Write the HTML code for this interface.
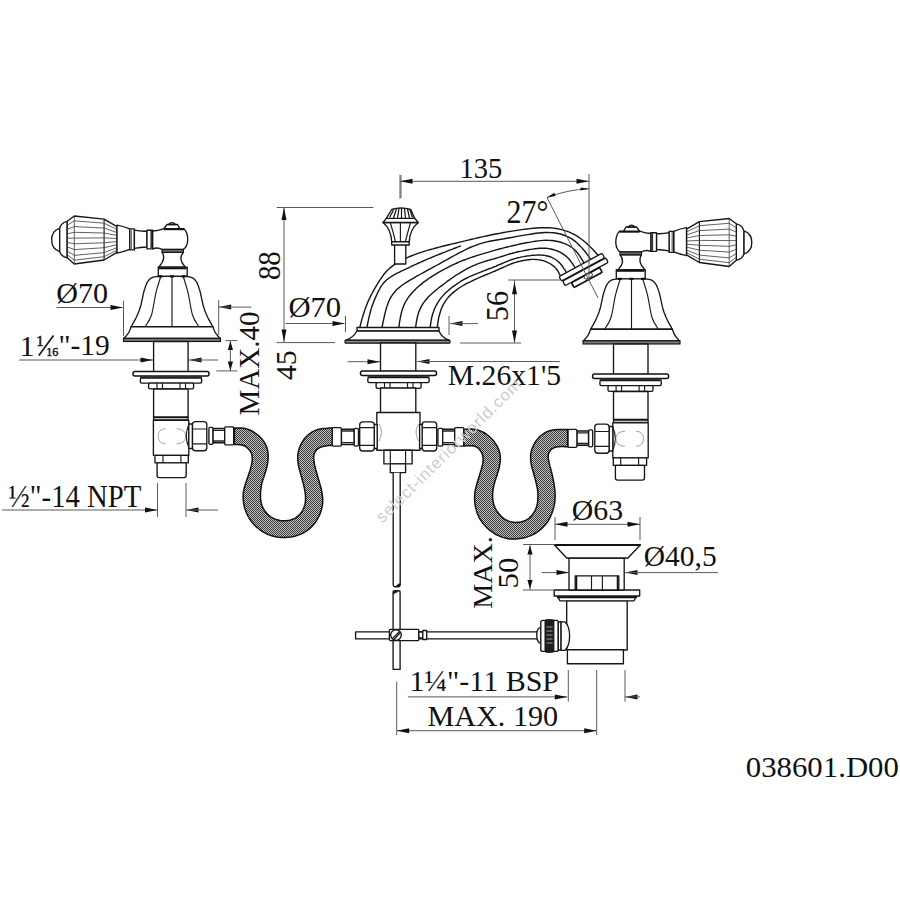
<!DOCTYPE html>
<html><head><meta charset="utf-8"><style>
html,body{margin:0;padding:0;background:#fff;}
svg{display:block;}
text{font-family:"Liberation Serif",serif;fill:#111;}
.ol{fill:#fff;stroke:#161616;stroke-width:1.35;stroke-linejoin:round;}
.th{fill:none;stroke:#1a1a1a;stroke-width:1.15;}
.fl{fill:none;stroke:#444;stroke-width:0.85;}
.bd{fill:none;stroke:#111;stroke-width:2.0;}
.dim{stroke:#5a5a5a;stroke-width:1.0;fill:none;}
.ah{fill:#111;stroke:none;}
.wm{fill:none;stroke:#999;stroke-width:0.9;}
.sp{fill:none;stroke:#151515;stroke-width:1.4;}
</style></head><body>
<svg width="900" height="900" viewBox="0 0 900 900">
<defs>
<pattern id="hatch" width="2" height="2" patternUnits="userSpaceOnUse">
<rect width="2" height="2" fill="#c4c4c4"/>
<rect width="1" height="1" fill="#383838"/>
<rect x="1" y="1" width="1" height="1" fill="#383838"/>
</pattern>
</defs>
<rect width="900" height="900" fill="#fff"/>

<g><path class="ol" d="M59.7,228.4 Q51.5,231 51.7,239.8 Q51.5,249 59.7,251.6 Z"/>
<path class="ol" d="M59.7,228.4 Q61,222.5 67.2,221.3 L67.2,257.8 Q61,256.5 59.7,251.6 Z"/>
<path class="ol" d="M67.2,221.3 L74.3,216 L104.1,219.1 L117,226.7 L117,252.4 L104.1,260 L74.3,264 L67.2,257.8 Z"/>
<path class="th" d="M104.1,219.1 L104.1,260"/>
<path class="fl" d="M74.3,216.5 L74.3,263.5"/>
<path class="fl" d="M67.5,225.0 L74.3,220.8 L104.1,223.2 L116.7,229.3"/>
<path class="fl" d="M67.5,229.3 L74.3,226.6 L104.1,228.1 L116.7,232.4"/>
<path class="fl" d="M67.5,233.7 L74.3,232.3 L104.1,233.0 L116.7,235.4"/>
<path class="fl" d="M67.5,238.1 L74.3,238.1 L104.1,237.9 L116.7,238.5"/>
<path class="fl" d="M67.5,242.5 L74.3,243.8 L104.1,242.8 L116.7,241.6"/>
<path class="fl" d="M67.5,246.9 L74.3,249.6 L104.1,247.7 L116.7,244.7"/>
<path class="fl" d="M67.5,251.2 L74.3,255.4 L104.1,252.6 L116.7,247.8"/>
<path class="fl" d="M67.5,254.9 L74.3,260.2 L104.1,256.7 L116.7,250.3"/>
<path class="ol" d="M117,225.1 Q123,226 129.8,228.8 L129.8,249.4 Q123,252 117,253.1 Z"/>
<rect class="ol" x="129.8" y="228.8" width="4.6" height="21.1"/>
<line x1="131.3" y1="229.5" x2="131.3" y2="249.2" stroke="#777" stroke-width="1.4"/>
<path class="ol" d="M134.4,230.2 Q140.7,231.6 147,231.2 L147,247 Q140.7,247.2 134.4,248.4 Z"/>
<rect class="ol" x="147" y="230.2" width="5.7" height="18.7"/>
<line x1="151.2" y1="230.8" x2="151.2" y2="248.3" stroke="#333" stroke-width="1.6"/>
<path class="ol" d="M152.7,231 Q158,230.8 163.9,228.6 L184,228.6 Q187.9,233 187.7,240 Q187.5,246.5 183.5,249.4 L162,249.4 Q157.5,246.8 152.7,248.9 Z"/>
<line x1="164" y1="229.3" x2="184" y2="229.3" stroke="#111" stroke-width="1.8"/>
<path class="ol" d="M163.9,228.6 L167,224.5 L177.5,224.5 L179.8,228.6 Z"/>
<path class="ol" d="M168.5,224.5 Q172,220.8 175.5,224.5 Z"/>
<path class="ol" d="M162,252.2 Q166.5,259 158.7,267.1 L185.4,267.1 Q177.5,259 183.5,252.2 Z"/>
<rect x="162" y="249.4" width="21.5" height="2.9" fill="#666" stroke="#111" stroke-width="1"/>
<rect class="ol" x="158.3" y="267.1" width="28.9" height="9.2"/>
<line class="bd" x1="159" y1="268.3" x2="186.5" y2="268.3"/>
<path class="ol" d="M131.1,326.7 L131.8,325.6 L132.5,324.2 L133.5,322.6 L134.4,320.9 L135.4,319.1 L136.3,317.3 L137.1,315.6 L137.8,314.0 L138.5,312.2 L139.2,310.5 L139.8,308.7 L140.4,306.7 L141.0,304.7 L141.5,302.4 L142.0,300.1 L142.5,297.9 L142.9,295.9 L143.3,294.1 L143.6,292.7 L143.9,291.6 L144.2,290.6 L144.4,289.7 L144.7,288.9 L145.0,288.0 L145.3,287.0 L145.7,285.9 L146.1,284.9 L146.5,283.9 L147.0,282.9 L147.5,282.0 L148.1,281.1 L148.7,280.3 L149.4,279.5 L150.2,278.8 L151.1,278.2 L152.1,277.6 L153.3,277.2 L154.7,276.9 L156.3,276.7 L157.7,276.5 L159.0,276.4 L160.0,276.3 L184.0,276.3 L185.0,276.4 L186.3,276.5 L187.7,276.7 L189.3,276.9 L190.7,277.2 L191.9,277.6 L192.9,278.2 L193.8,278.8 L194.6,279.5 L195.3,280.3 L195.9,281.1 L196.5,282.0 L197.0,282.9 L197.5,283.9 L197.9,284.9 L198.3,285.9 L198.7,287.0 L199.0,288.0 L199.3,288.9 L199.6,289.7 L199.8,290.6 L200.1,291.6 L200.4,292.7 L200.7,294.1 L201.1,295.9 L201.5,297.9 L202.0,300.1 L202.5,302.4 L203.0,304.7 L203.6,306.7 L204.2,308.7 L204.8,310.5 L205.5,312.2 L206.2,314.0 L206.9,315.6 L207.7,317.3 L208.6,319.1 L209.6,320.9 L210.5,322.6 L211.5,324.2 L212.2,325.6 L212.9,326.7 Z"/>
<path class="ol" d="M131.1,326.7 L212.9,326.7 Q214.5,333.5 220.2,338.4 L123.8,338.4 Q129.5,333.5 131.1,326.7 Z"/>
<rect x="123.5" y="338.3" width="97" height="3.2" fill="#777" stroke="#111" stroke-width="1.1"/>
<path class="th" d="M172,276.5 L172,326.7 M160.8,276.5 C160.0,279.0 157.8,285.3 156.2,291.7 C154.6,298.1 153.3,309.2 151.5,315.0 C149.7,320.8 146.2,324.8 145.1,326.7 M183.2,276.5 C184.0,279.0 186.2,285.3 187.8,291.7 C189.4,298.1 190.7,309.2 192.5,315.0 C194.3,320.8 197.8,324.8 198.9,326.7"/>
<path d="M158.5,276.3 L162.5,276.3 M170,276.3 L174,276.3 M181.5,276.3 L185.5,276.3" stroke="#111" stroke-width="2.2"/>
<rect class="ol" x="153.6" y="341.5" width="34.5" height="30.5"/>
<rect x="133" y="371.6" width="76" height="4.4" rx="2" fill="#fff" stroke="#111" stroke-width="1.5"/>
<rect x="140" y="376.0" width="62" height="2.2" fill="#333" stroke="none"/>
<rect class="ol" x="140.3" y="378.1" width="61.4" height="5" rx="1.5"/>
<rect class="ol" x="148.6" y="383.1" width="45" height="5.7" rx="1.5"/>
<path class="th" d="M157,383.1 L157,388.8 M162.5,383.1 L162.5,388.8 M180,383.1 L180,388.8 M185.5,383.1 L185.5,388.8"/>
<rect class="ol" x="153.6" y="389" width="34.5" height="31"/>
<line class="bd" x1="153.6" y1="417.3" x2="188.1" y2="417.3"/>
<rect class="ol" x="153.4" y="420.3" width="35.4" height="35.1"/>
<path class="wm" d="M165.5,428.7 Q158.2,429 158.2,436.2 Q158.2,443.5 165.5,443.8 M176.5,428.7 Q185.7,429 185.7,436.2 Q185.7,443.5 176.5,443.8"/>
<path class="th" d="M188.6,425 Q184,436 188.6,447"/>
<rect class="ol" x="155" y="455.4" width="33.3" height="7.4"/>
<path class="th" d="M163,455.4 L163,462.8 M180.9,455.4 L180.9,462.8"/>
<path class="ol" d="M157.1,462.8 L186.2,462.8 L186.2,475.6 Q186.2,477.6 184.2,477.6 L159.1,477.6 Q157.1,477.6 157.1,475.6 Z"/>
<rect class="ol" x="188.8" y="424" width="3.7" height="24.5"/>
<rect class="ol" x="192.5" y="421.6" width="14.3" height="29.1" rx="3"/>
<path class="th" d="M192.5,429 L206.8,429 M192.5,443.8 L206.8,443.8"/>
<rect class="ol" x="208.9" y="427.4" width="4.2" height="16.9" rx="1.5"/>
<rect class="ol" x="213.1" y="428.5" width="11.6" height="14.2"/>
<path d="M213.1,430.3 L224.7,430.3 M213.1,441 L224.7,441" stroke="#222" stroke-width="1.3"/>
<rect class="ol" x="224.7" y="426.9" width="9" height="17.9" rx="1"/></g>
<g transform="translate(803.5,2.5) scale(-1,1)"><path class="ol" d="M59.7,228.4 Q51.5,231 51.7,239.8 Q51.5,249 59.7,251.6 Z"/>
<path class="ol" d="M59.7,228.4 Q61,222.5 67.2,221.3 L67.2,257.8 Q61,256.5 59.7,251.6 Z"/>
<path class="ol" d="M67.2,221.3 L74.3,216 L104.1,219.1 L117,226.7 L117,252.4 L104.1,260 L74.3,264 L67.2,257.8 Z"/>
<path class="th" d="M104.1,219.1 L104.1,260"/>
<path class="fl" d="M74.3,216.5 L74.3,263.5"/>
<path class="fl" d="M67.5,225.0 L74.3,220.8 L104.1,223.2 L116.7,229.3"/>
<path class="fl" d="M67.5,229.3 L74.3,226.6 L104.1,228.1 L116.7,232.4"/>
<path class="fl" d="M67.5,233.7 L74.3,232.3 L104.1,233.0 L116.7,235.4"/>
<path class="fl" d="M67.5,238.1 L74.3,238.1 L104.1,237.9 L116.7,238.5"/>
<path class="fl" d="M67.5,242.5 L74.3,243.8 L104.1,242.8 L116.7,241.6"/>
<path class="fl" d="M67.5,246.9 L74.3,249.6 L104.1,247.7 L116.7,244.7"/>
<path class="fl" d="M67.5,251.2 L74.3,255.4 L104.1,252.6 L116.7,247.8"/>
<path class="fl" d="M67.5,254.9 L74.3,260.2 L104.1,256.7 L116.7,250.3"/>
<path class="ol" d="M117,225.1 Q123,226 129.8,228.8 L129.8,249.4 Q123,252 117,253.1 Z"/>
<rect class="ol" x="129.8" y="228.8" width="4.6" height="21.1"/>
<line x1="131.3" y1="229.5" x2="131.3" y2="249.2" stroke="#777" stroke-width="1.4"/>
<path class="ol" d="M134.4,230.2 Q140.7,231.6 147,231.2 L147,247 Q140.7,247.2 134.4,248.4 Z"/>
<rect class="ol" x="147" y="230.2" width="5.7" height="18.7"/>
<line x1="151.2" y1="230.8" x2="151.2" y2="248.3" stroke="#333" stroke-width="1.6"/>
<path class="ol" d="M152.7,231 Q158,230.8 163.9,228.6 L184,228.6 Q187.9,233 187.7,240 Q187.5,246.5 183.5,249.4 L162,249.4 Q157.5,246.8 152.7,248.9 Z"/>
<line x1="164" y1="229.3" x2="184" y2="229.3" stroke="#111" stroke-width="1.8"/>
<path class="ol" d="M163.9,228.6 L167,224.5 L177.5,224.5 L179.8,228.6 Z"/>
<path class="ol" d="M168.5,224.5 Q172,220.8 175.5,224.5 Z"/>
<path class="ol" d="M162,252.2 Q166.5,259 158.7,267.1 L185.4,267.1 Q177.5,259 183.5,252.2 Z"/>
<rect x="162" y="249.4" width="21.5" height="2.9" fill="#666" stroke="#111" stroke-width="1"/>
<rect class="ol" x="158.3" y="267.1" width="28.9" height="9.2"/>
<line class="bd" x1="159" y1="268.3" x2="186.5" y2="268.3"/>
<path class="ol" d="M131.1,326.7 L131.8,325.6 L132.5,324.2 L133.5,322.6 L134.4,320.9 L135.4,319.1 L136.3,317.3 L137.1,315.6 L137.8,314.0 L138.5,312.2 L139.2,310.5 L139.8,308.7 L140.4,306.7 L141.0,304.7 L141.5,302.4 L142.0,300.1 L142.5,297.9 L142.9,295.9 L143.3,294.1 L143.6,292.7 L143.9,291.6 L144.2,290.6 L144.4,289.7 L144.7,288.9 L145.0,288.0 L145.3,287.0 L145.7,285.9 L146.1,284.9 L146.5,283.9 L147.0,282.9 L147.5,282.0 L148.1,281.1 L148.7,280.3 L149.4,279.5 L150.2,278.8 L151.1,278.2 L152.1,277.6 L153.3,277.2 L154.7,276.9 L156.3,276.7 L157.7,276.5 L159.0,276.4 L160.0,276.3 L184.0,276.3 L185.0,276.4 L186.3,276.5 L187.7,276.7 L189.3,276.9 L190.7,277.2 L191.9,277.6 L192.9,278.2 L193.8,278.8 L194.6,279.5 L195.3,280.3 L195.9,281.1 L196.5,282.0 L197.0,282.9 L197.5,283.9 L197.9,284.9 L198.3,285.9 L198.7,287.0 L199.0,288.0 L199.3,288.9 L199.6,289.7 L199.8,290.6 L200.1,291.6 L200.4,292.7 L200.7,294.1 L201.1,295.9 L201.5,297.9 L202.0,300.1 L202.5,302.4 L203.0,304.7 L203.6,306.7 L204.2,308.7 L204.8,310.5 L205.5,312.2 L206.2,314.0 L206.9,315.6 L207.7,317.3 L208.6,319.1 L209.6,320.9 L210.5,322.6 L211.5,324.2 L212.2,325.6 L212.9,326.7 Z"/>
<path class="ol" d="M131.1,326.7 L212.9,326.7 Q214.5,333.5 220.2,338.4 L123.8,338.4 Q129.5,333.5 131.1,326.7 Z"/>
<rect x="123.5" y="338.3" width="97" height="3.2" fill="#777" stroke="#111" stroke-width="1.1"/>
<path class="th" d="M172,276.5 L172,326.7 M160.8,276.5 C160.0,279.0 157.8,285.3 156.2,291.7 C154.6,298.1 153.3,309.2 151.5,315.0 C149.7,320.8 146.2,324.8 145.1,326.7 M183.2,276.5 C184.0,279.0 186.2,285.3 187.8,291.7 C189.4,298.1 190.7,309.2 192.5,315.0 C194.3,320.8 197.8,324.8 198.9,326.7"/>
<path d="M158.5,276.3 L162.5,276.3 M170,276.3 L174,276.3 M181.5,276.3 L185.5,276.3" stroke="#111" stroke-width="2.2"/></g>
<g transform="translate(801.6,2.5) scale(-1,1)"><rect class="ol" x="153.6" y="341.5" width="34.5" height="30.5"/>
<rect x="133" y="371.6" width="76" height="4.4" rx="2" fill="#fff" stroke="#111" stroke-width="1.5"/>
<rect x="140" y="376.0" width="62" height="2.2" fill="#333" stroke="none"/>
<rect class="ol" x="140.3" y="378.1" width="61.4" height="5" rx="1.5"/>
<rect class="ol" x="148.6" y="383.1" width="45" height="5.7" rx="1.5"/>
<path class="th" d="M157,383.1 L157,388.8 M162.5,383.1 L162.5,388.8 M180,383.1 L180,388.8 M185.5,383.1 L185.5,388.8"/>
<rect class="ol" x="153.6" y="389" width="34.5" height="31"/>
<line class="bd" x1="153.6" y1="417.3" x2="188.1" y2="417.3"/>
<rect class="ol" x="153.4" y="420.3" width="35.4" height="35.1"/>
<path class="wm" d="M165.5,428.7 Q158.2,429 158.2,436.2 Q158.2,443.5 165.5,443.8 M176.5,428.7 Q185.7,429 185.7,436.2 Q185.7,443.5 176.5,443.8"/>
<path class="th" d="M188.6,425 Q184,436 188.6,447"/>
<rect class="ol" x="155" y="455.4" width="33.3" height="7.4"/>
<path class="th" d="M163,455.4 L163,462.8 M180.9,455.4 L180.9,462.8"/>
<path class="ol" d="M157.1,462.8 L186.2,462.8 L186.2,475.6 Q186.2,477.6 184.2,477.6 L159.1,477.6 Q157.1,477.6 157.1,475.6 Z"/>
<rect class="ol" x="188.8" y="424" width="3.7" height="24.5"/>
<rect class="ol" x="192.5" y="421.6" width="14.3" height="29.1" rx="3"/>
<path class="th" d="M192.5,429 L206.8,429 M192.5,443.8 L206.8,443.8"/>
<rect class="ol" x="208.9" y="427.4" width="4.2" height="16.9" rx="1.5"/>
<rect class="ol" x="213.1" y="428.5" width="11.6" height="14.2"/>
<path d="M213.1,430.3 L224.7,430.3 M213.1,441 L224.7,441" stroke="#222" stroke-width="1.3"/>
<rect class="ol" x="224.7" y="426.9" width="9" height="17.9" rx="1"/></g>
<path d="M234.4,428.0 L235.6,428.0 L237.0,428.0 L238.4,428.0 L240.0,428.0 L241.6,428.1 L243.3,428.3 L245.0,428.6 L246.6,429.0 L248.1,429.4 L249.7,430.0 L251.2,430.7 L252.7,431.5 L254.1,432.4 L255.5,433.3 L256.8,434.3 L258.1,435.3 L259.3,436.4 L260.5,437.6 L261.6,438.8 L262.6,440.0 L263.6,441.3 L264.5,442.6 L265.3,444.0 L266.0,445.3 L266.6,446.7 L267.0,448.1 L267.4,449.5 L267.7,451.0 L267.9,452.4 L268.1,453.9 L268.2,455.4 L268.2,457.0 L268.1,458.5 L268.0,460.1 L267.8,461.7 L267.6,463.3 L267.3,465.0 L266.9,466.6 L266.5,468.2 L266.1,469.9 L265.6,471.5 L265.1,473.1 L264.5,474.8 L264.0,476.4 L263.4,478.0 L262.9,479.7 L262.4,481.3 L261.9,482.9 L261.6,484.6 L261.3,486.2 L261.0,487.8 L260.8,489.5 L260.6,491.1 L260.5,492.7 L260.5,494.3 L260.5,495.8 L260.5,497.4 L260.6,498.9 L260.8,500.3 L261.0,501.8 L261.3,503.2 L261.7,504.6 L262.1,506.0 L262.7,507.4 L263.5,508.8 L264.3,510.2 L265.2,511.5 L266.3,512.8 L267.4,514.1 L268.7,515.2 L270.0,516.3 L271.4,517.3 L273.0,518.1 L274.6,518.9 L276.4,519.5 L278.2,520.0 L280.0,520.4 L281.9,520.7 L283.7,520.8 L285.5,520.8 L287.3,520.6 L289.1,520.3 L290.8,519.9 L292.5,519.3 L294.1,518.6 L295.6,517.8 L297.0,516.9 L298.3,515.9 L299.5,514.7 L300.6,513.5 L301.6,512.1 L302.5,510.7 L303.2,509.2 L303.9,507.6 L304.4,506.1 L304.9,504.5 L305.2,502.9 L305.4,501.3 L305.5,499.7 L305.6,498.1 L305.5,496.5 L305.4,494.8 L305.2,493.2 L305.0,491.4 L304.7,489.7 L304.3,487.9 L303.9,486.2 L303.5,484.4 L303.0,482.6 L302.5,480.7 L302.0,478.9 L301.5,477.1 L301.0,475.3 L300.5,473.5 L300.0,471.6 L299.5,469.8 L299.1,468.0 L298.7,466.3 L298.3,464.5 L298.1,462.8 L297.9,461.1 L297.7,459.4 L297.7,457.8 L297.7,456.1 L297.9,454.5 L298.1,452.9 L298.4,451.3 L298.9,449.6 L299.4,448.0 L300.1,446.3 L300.9,444.6 L301.7,442.9 L302.7,441.3 L303.7,439.8 L304.8,438.3 L306.0,436.9 L307.2,435.7 L308.5,434.5 L309.9,433.5 L311.3,432.5 L312.8,431.6 L314.3,430.9 L316.0,430.2 L317.7,429.6 L319.6,429.2 L321.5,428.8 L323.5,428.5 L325.5,428.4 L327.5,428.2 L329.3,428.1 L331.1,428.1 L332.6,428.0 L332.6,445.3 L331.4,445.4 L330.0,445.5 L328.6,445.6 L327.1,445.8 L325.6,446.0 L324.1,446.2 L322.6,446.6 L321.3,447.0 L320.1,447.4 L319.1,448.0 L318.1,448.6 L317.2,449.3 L316.5,450.1 L315.8,450.8 L315.2,451.7 L314.7,452.6 L314.3,453.5 L314.0,454.4 L313.8,455.4 L313.7,456.4 L313.6,457.6 L313.7,458.8 L313.8,460.0 L314.0,461.4 L314.2,463.0 L314.5,464.6 L314.9,466.3 L315.4,468.1 L315.8,469.9 L316.4,471.8 L316.9,473.7 L317.4,475.6 L318.0,477.6 L318.6,479.6 L319.2,481.5 L319.7,483.5 L320.3,485.5 L320.8,487.5 L321.3,489.5 L321.7,491.4 L322.0,493.3 L322.3,495.1 L322.5,496.9 L322.7,498.8 L322.7,500.6 L322.7,502.4 L322.5,504.2 L322.2,506.1 L321.8,508.1 L321.3,510.1 L320.7,512.1 L319.9,514.1 L319.0,516.1 L318.0,518.0 L317.0,519.9 L315.8,521.7 L314.5,523.5 L313.1,525.1 L311.6,526.7 L310.0,528.2 L308.3,529.6 L306.6,530.9 L304.7,532.1 L302.8,533.1 L300.9,534.1 L298.8,534.9 L296.7,535.6 L294.5,536.2 L292.3,536.7 L290.1,537.1 L287.8,537.3 L285.6,537.5 L283.4,537.5 L281.2,537.5 L279.0,537.3 L276.8,537.0 L274.6,536.6 L272.5,536.0 L270.4,535.4 L268.4,534.6 L266.4,533.7 L264.4,532.7 L262.5,531.6 L260.7,530.3 L258.9,529.0 L257.2,527.6 L255.6,526.1 L254.1,524.6 L252.7,522.9 L251.3,521.2 L250.1,519.5 L249.0,517.7 L247.9,515.9 L247.0,514.0 L246.2,512.2 L245.4,510.3 L244.8,508.5 L244.3,506.6 L243.9,504.8 L243.6,503.0 L243.4,501.2 L243.2,499.4 L243.1,497.7 L243.1,496.1 L243.2,494.5 L243.3,493.0 L243.5,491.5 L243.8,490.1 L244.1,488.7 L244.4,487.2 L244.9,485.7 L245.3,484.1 L245.9,482.4 L246.5,480.7 L247.1,478.9 L247.8,477.1 L248.4,475.3 L249.0,473.5 L249.6,471.7 L250.2,470.0 L250.6,468.4 L251.0,466.8 L251.4,465.2 L251.7,463.8 L251.9,462.3 L252.1,461.0 L252.2,459.7 L252.3,458.5 L252.2,457.4 L252.1,456.3 L252.0,455.3 L251.8,454.4 L251.5,453.6 L251.1,452.7 L250.7,451.9 L250.1,451.1 L249.6,450.3 L248.9,449.5 L248.2,448.7 L247.4,447.9 L246.5,447.2 L245.6,446.5 L244.7,446.0 L243.6,445.5 L242.5,445.2 L241.3,444.9 L240.0,444.8 L238.8,444.7 L237.6,444.6 L236.4,444.6 L235.3,444.6 L234.4,444.6 Z" fill="url(#hatch)" stroke="#111" stroke-width="1.5" stroke-linejoin="round"/>
<path d="M463.7,429.4 L464.9,429.3 L466.4,429.2 L468.0,429.1 L469.6,429.1 L471.3,429.1 L473.1,429.2 L474.9,429.4 L476.6,429.7 L478.2,430.1 L479.9,430.7 L481.4,431.4 L483.0,432.1 L484.5,433.0 L486.0,433.9 L487.4,435.0 L488.8,436.1 L490.1,437.2 L491.4,438.5 L492.6,439.8 L493.7,441.1 L494.7,442.5 L495.7,443.9 L496.6,445.3 L497.4,446.8 L498.1,448.2 L498.7,449.6 L499.2,451.0 L499.6,452.5 L499.9,453.9 L500.1,455.4 L500.3,456.9 L500.3,458.4 L500.3,459.9 L500.2,461.5 L500.0,463.1 L499.7,464.7 L499.4,466.4 L499.1,468.0 L498.7,469.6 L498.2,471.3 L497.7,472.9 L497.2,474.5 L496.7,476.2 L496.1,477.8 L495.6,479.4 L495.0,481.1 L494.6,482.7 L494.1,484.3 L493.7,486.0 L493.4,487.6 L493.1,489.2 L492.9,490.9 L492.7,492.5 L492.6,494.1 L492.6,495.7 L492.6,497.2 L492.7,498.8 L492.9,500.3 L493.2,501.8 L493.5,503.2 L493.9,504.7 L494.4,506.1 L494.9,507.5 L495.6,508.9 L496.4,510.3 L497.3,511.7 L498.3,513.0 L499.3,514.3 L500.5,515.6 L501.7,516.7 L502.9,517.8 L504.2,518.8 L505.5,519.6 L506.8,520.3 L508.2,520.9 L509.6,521.4 L511.1,521.8 L512.6,522.1 L514.1,522.3 L515.7,522.4 L517.3,522.3 L518.9,522.2 L520.6,521.9 L522.3,521.5 L523.9,521.0 L525.5,520.4 L527.0,519.6 L528.4,518.7 L529.7,517.6 L530.9,516.4 L532.1,515.1 L533.1,513.7 L534.1,512.2 L535.0,510.6 L535.7,509.0 L536.4,507.3 L536.9,505.6 L537.3,503.9 L537.6,502.1 L537.8,500.3 L537.9,498.5 L538.0,496.7 L538.0,494.9 L537.9,493.0 L537.7,491.2 L537.5,489.4 L537.2,487.6 L536.8,485.8 L536.4,484.0 L536.0,482.2 L535.5,480.3 L535.0,478.4 L534.5,476.5 L533.9,474.5 L533.4,472.5 L532.8,470.5 L532.2,468.5 L531.7,466.6 L531.3,464.7 L531.0,462.8 L530.8,461.1 L530.6,459.3 L530.6,457.7 L530.6,456.0 L530.7,454.4 L531.0,452.8 L531.3,451.3 L531.7,449.7 L532.3,448.1 L533.0,446.5 L533.8,444.9 L534.6,443.3 L535.6,441.7 L536.6,440.3 L537.7,438.9 L538.9,437.6 L540.1,436.4 L541.4,435.3 L542.7,434.2 L544.1,433.3 L545.6,432.4 L547.1,431.6 L548.9,431.0 L550.7,430.5 L552.8,430.1 L554.9,429.8 L557.2,429.6 L559.5,429.5 L561.7,429.4 L563.8,429.4 L565.9,429.4 L567.6,429.4 L567.6,446.8 L566.4,446.7 L565.1,446.7 L563.7,446.6 L562.2,446.6 L560.6,446.6 L559.1,446.7 L557.7,446.8 L556.4,447.0 L555.2,447.3 L554.2,447.7 L553.2,448.1 L552.4,448.6 L551.6,449.2 L550.9,449.8 L550.3,450.5 L549.8,451.2 L549.3,451.9 L548.9,452.7 L548.6,453.5 L548.4,454.4 L548.3,455.3 L548.2,456.3 L548.2,457.3 L548.3,458.4 L548.4,459.6 L548.7,460.9 L549.0,462.2 L549.3,463.6 L549.7,465.1 L550.1,466.7 L550.6,468.4 L551.0,470.1 L551.5,472.0 L552.0,474.0 L552.5,476.1 L552.9,478.3 L553.4,480.5 L553.8,482.7 L554.2,484.9 L554.5,487.1 L554.7,489.3 L554.9,491.5 L555.1,493.7 L555.1,495.8 L555.1,498.0 L554.9,500.2 L554.7,502.4 L554.3,504.6 L553.9,506.9 L553.2,509.2 L552.5,511.5 L551.7,513.8 L550.7,516.0 L549.6,518.2 L548.5,520.4 L547.1,522.4 L545.7,524.3 L544.1,526.1 L542.5,527.8 L540.7,529.4 L538.8,530.9 L536.9,532.3 L534.9,533.5 L532.9,534.6 L530.8,535.6 L528.7,536.4 L526.5,537.1 L524.3,537.7 L522.1,538.2 L519.9,538.6 L517.8,538.8 L515.8,539.0 L513.8,539.1 L511.9,539.0 L510.0,538.9 L508.2,538.7 L506.4,538.3 L504.7,537.9 L502.9,537.4 L501.2,536.8 L499.5,536.1 L497.8,535.4 L496.1,534.5 L494.5,533.6 L492.9,532.5 L491.3,531.4 L489.8,530.2 L488.3,528.9 L486.8,527.6 L485.4,526.1 L484.0,524.6 L482.7,523.0 L481.5,521.3 L480.3,519.6 L479.3,517.8 L478.4,516.0 L477.5,514.1 L476.8,512.1 L476.3,510.2 L475.8,508.1 L475.4,506.1 L475.0,504.2 L474.8,502.2 L474.7,500.4 L474.6,498.6 L474.6,496.9 L474.7,495.2 L474.8,493.6 L475.0,492.0 L475.3,490.4 L475.6,488.8 L476.0,487.1 L476.5,485.3 L476.9,483.6 L477.5,481.8 L478.0,479.9 L478.6,478.1 L479.2,476.3 L479.7,474.6 L480.2,472.9 L480.7,471.3 L481.2,469.7 L481.6,468.2 L482.0,466.7 L482.4,465.3 L482.7,463.9 L482.9,462.6 L483.0,461.3 L483.1,460.1 L483.1,458.9 L483.0,457.7 L482.9,456.6 L482.7,455.5 L482.4,454.5 L482.0,453.5 L481.5,452.5 L481.0,451.6 L480.4,450.6 L479.7,449.7 L478.9,448.8 L478.1,448.1 L477.1,447.4 L476.1,446.8 L474.9,446.3 L473.6,446.0 L472.2,445.8 L470.7,445.7 L469.1,445.7 L467.6,445.7 L466.2,445.8 L464.9,445.9 L463.7,446.0 Z" fill="url(#hatch)" stroke="#111" stroke-width="1.5" stroke-linejoin="round"/>
<path class="sp" d="M359.8,327.5 L360.6,324.3 L361.4,321.1 L362.3,317.9 L363.3,314.7 L364.3,311.6 L365.3,308.5 L366.5,305.4 L367.7,302.4 L369.1,299.4 L370.5,296.4 L372.0,293.5 L373.6,290.6 L375.2,287.7 L376.9,284.8 L378.6,282.0 L380.4,279.3 L382.3,276.6 L384.2,274.0 L386.3,271.5 L388.6,269.2 L391.0,267.1 L393.6,265.1 L396.3,263.3 L399.1,261.6 L402.0,260.0 L404.9,258.6 L407.9,257.3 L411.0,256.0 L414.1,254.8 L417.2,253.7 L420.3,252.6 L423.4,251.6 L426.6,250.7 L429.8,249.7 L433.0,248.9 L436.1,248.0 L439.3,247.1 L442.5,246.3 L445.7,245.5 L449.0,244.7 L452.2,243.9 L455.4,243.2 L458.6,242.4 L461.8,241.6 L465.0,240.9 L468.3,240.1 L471.5,239.3 L474.7,238.6 L477.9,237.8 L481.1,237.1 L484.4,236.4 L487.6,235.7 L490.8,235.0 L494.1,234.3 L497.3,233.7 L500.6,233.1 L503.8,232.5 L507.1,231.9 L510.3,231.4 L513.6,230.9 L516.9,230.4 L520.1,229.9 L523.4,229.4 L526.7,229.0 L530.0,228.6 L533.3,228.3 L536.5,228.0 L539.8,227.8 L543.1,227.7 L546.4,227.7 L549.7,227.8 L553.0,228.1 L556.2,228.5 L559.4,229.1 L562.6,229.9 L565.7,230.8 L568.8,231.9 L571.8,233.3 L574.7,234.7 L577.5,236.4 L580.2,238.2 L582.8,240.2 L585.3,242.3 L587.8,244.4 L590.1,246.7 L592.4,249.1 L594.7,251.5 L596.9,254.0 L599.0,256.5"/>
<path class="sp" d="M366.9,327.5 L367.2,326.0 L367.5,324.5 L367.8,323.1 L368.1,321.6 L368.4,320.1 L368.7,318.6 L369.1,317.1 L369.4,315.7 L369.8,314.2 L370.1,312.7 L370.5,311.3 L370.9,309.8 L371.3,308.4 L371.8,306.9 L372.3,305.5 L372.8,304.1 L373.4,302.7 L373.9,301.3 L374.5,299.9 L375.1,298.5 L375.7,297.1 L376.3,295.7 L376.9,294.4 L377.5,293.0 L378.2,291.6 L378.9,290.3 L379.6,289.0 L380.3,287.6 L381.1,286.4 L382.0,285.1 L382.9,283.9 L383.8,282.8 L384.8,281.7 L385.9,280.6 L387.0,279.6 L388.2,278.7 L389.4,277.8 L390.6,277.0 L391.9,276.2 L393.2,275.4 L394.5,274.7 L395.8,273.9 L397.2,273.2 L398.5,272.6 L399.9,271.9 L401.2,271.2 L402.6,270.6 L404.0,269.9 L405.3,269.3 L406.7,268.6 L408.1,268.0 L409.4,267.3 L410.8,266.7 L412.1,266.0 L413.5,265.4 L414.9,264.7 L416.3,264.1 L417.6,263.5 L419.0,262.9 L420.4,262.3 L421.8,261.6 L423.2,261.0 L424.5,260.4 L425.9,259.8 L427.3,259.2 L428.7,258.7 L430.1,258.1 L431.5,257.5 L432.9,256.9 L434.3,256.3 L435.7,255.7 L437.1,255.2 L438.5,254.6 L439.9,254.0 L441.3,253.5 L442.7,252.9 L444.1,252.3 L445.5,251.8 L446.9,251.2 L448.3,250.7 L449.7,250.1 L451.1,249.6 L452.5,249.1 L453.9,248.5 L455.4,248.0 L456.8,247.4 L458.2,246.9 L459.6,246.3 L461.0,245.8"/>
<path class="sp" d="M382.0,327.5 L382.6,324.6 L383.2,321.7 L383.8,318.8 L384.4,316.0 L385.1,313.1 L385.8,310.2 L386.6,307.4 L387.5,304.7 L388.5,301.9 L389.7,299.3 L391.1,296.8 L392.7,294.4 L394.5,292.2 L396.4,290.1 L398.5,288.1 L400.8,286.3 L403.1,284.5 L405.5,282.9 L408.0,281.3 L410.5,279.8 L413.1,278.3 L415.6,276.9 L418.2,275.4 L420.8,274.0 L423.4,272.6 L426.0,271.2 L428.6,269.7 L431.1,268.3 L433.7,266.9 L436.3,265.5 L438.9,264.1 L441.5,262.6 L444.0,261.2 L446.6,259.8 L449.2,258.3 L451.8,256.9 L454.4,255.5 L457.0,254.1 L459.6,252.7 L462.2,251.4 L464.8,250.0 L467.5,248.7 L470.1,247.5 L472.8,246.3 L475.6,245.3 L478.3,244.3 L481.1,243.4 L483.9,242.6 L486.8,241.9 L489.7,241.3 L492.5,240.8 L495.4,240.3 L498.3,239.8 L501.2,239.3 L504.1,238.8 L507.0,238.2 L509.9,237.7 L512.8,237.2 L515.7,236.6 L518.6,236.1 L521.5,235.6 L524.5,235.1 L527.4,234.6 L530.3,234.2 L533.2,233.7 L536.1,233.3 L539.0,233.0 L542.0,232.7 L544.9,232.5 L547.8,232.5 L550.7,232.6 L553.6,232.8 L556.5,233.2 L559.3,233.8 L562.1,234.5 L564.9,235.5 L567.5,236.6 L570.1,237.9 L572.5,239.4 L574.9,241.1 L577.1,243.0 L579.2,245.0 L581.2,247.1 L583.1,249.3 L585.0,251.5 L586.8,253.9 L588.5,256.2 L590.3,258.6 L592.0,261.0"/>
<path class="sp" d="M398.9,327.5 L399.2,324.9 L399.5,322.3 L400.0,319.7 L400.4,317.1 L401.0,314.5 L401.6,311.9 L402.3,309.4 L403.2,307.0 L404.2,304.6 L405.3,302.2 L406.6,300.0 L408.0,297.8 L409.6,295.7 L411.3,293.7 L413.0,291.8 L414.8,289.9 L416.7,288.1 L418.7,286.3 L420.7,284.6 L422.7,282.9 L424.8,281.3 L427.0,279.8 L429.1,278.3 L431.3,276.8 L433.6,275.4 L435.8,274.1 L438.1,272.7 L440.4,271.4 L442.7,270.1 L445.0,268.9 L447.4,267.6 L449.7,266.4 L452.1,265.2 L454.5,264.1 L456.9,263.0 L459.3,261.9 L461.7,260.9 L464.2,260.0 L466.6,259.1 L469.1,258.2 L471.6,257.3 L474.1,256.5 L476.7,255.7 L479.2,254.9 L481.7,254.1 L484.2,253.4 L486.8,252.6 L489.3,251.9 L491.9,251.1 L494.4,250.4 L496.9,249.7 L499.5,249.0 L502.0,248.3 L504.6,247.6 L507.2,247.0 L509.7,246.4 L512.3,245.7 L514.9,245.2 L517.5,244.6 L520.0,244.0 L522.6,243.5 L525.2,243.0 L527.8,242.5 L530.4,242.1 L533.0,241.6 L535.6,241.2 L538.2,240.9 L540.9,240.6 L543.5,240.4 L546.1,240.3 L548.7,240.4 L551.3,240.5 L553.9,240.8 L556.5,241.3 L559.0,241.8 L561.5,242.5 L564.0,243.4 L566.4,244.3 L568.7,245.5 L570.9,246.8 L572.9,248.3 L574.9,250.0 L576.6,251.8 L578.2,253.8 L579.7,255.9 L581.1,258.1 L582.5,260.3 L583.8,262.7 L585.0,265.0"/>
<path class="sp" d="M415.6,327.6 L415.9,325.3 L416.2,323.1 L416.6,320.8 L417.0,318.6 L417.5,316.4 L418.1,314.2 L418.8,312.0 L419.7,309.9 L420.6,307.9 L421.7,305.9 L422.8,303.9 L424.1,302.1 L425.5,300.3 L426.9,298.5 L428.5,296.8 L430.1,295.2 L431.7,293.7 L433.4,292.2 L435.2,290.7 L437.0,289.3 L438.8,287.8 L440.6,286.4 L442.4,285.1 L444.2,283.7 L446.1,282.3 L447.9,280.9 L449.8,279.6 L451.6,278.3 L453.5,277.0 L455.4,275.7 L457.3,274.5 L459.3,273.3 L461.3,272.1 L463.2,270.9 L465.2,269.8 L467.2,268.7 L469.3,267.7 L471.3,266.7 L473.4,265.7 L475.5,264.8 L477.6,263.9 L479.7,263.1 L481.9,262.3 L484.1,261.6 L486.2,261.0 L488.4,260.3 L490.6,259.7 L492.8,259.1 L495.1,258.5 L497.3,257.8 L499.4,257.2 L501.6,256.5 L503.8,255.8 L506.0,255.1 L508.2,254.4 L510.4,253.8 L512.6,253.2 L514.8,252.6 L517.0,252.0 L519.2,251.5 L521.5,251.1 L523.7,250.6 L526.0,250.2 L528.2,249.8 L530.5,249.4 L532.7,249.1 L535.0,248.8 L537.3,248.5 L539.5,248.3 L541.8,248.2 L544.1,248.2 L546.3,248.3 L548.6,248.6 L550.8,249.0 L552.9,249.5 L555.1,250.2 L557.2,251.0 L559.3,251.9 L561.3,252.9 L563.2,254.1 L565.0,255.4 L566.7,256.8 L568.3,258.3 L569.8,260.0 L571.2,261.8 L572.5,263.6 L573.8,265.5 L574.9,267.5 L576.0,269.5"/>
<path class="sp" d="M430.2,327.6 L430.4,325.6 L430.7,323.6 L431.0,321.7 L431.3,319.7 L431.7,317.7 L432.2,315.8 L432.7,313.9 L433.4,312.0 L434.0,310.1 L434.8,308.3 L435.6,306.5 L436.6,304.7 L437.5,303.0 L438.6,301.3 L439.7,299.7 L440.9,298.1 L442.2,296.6 L443.5,295.1 L444.9,293.6 L446.3,292.3 L447.8,290.9 L449.3,289.6 L450.9,288.3 L452.4,287.1 L454.0,285.9 L455.7,284.7 L457.3,283.6 L459.0,282.5 L460.7,281.4 L462.4,280.4 L464.1,279.4 L465.9,278.5 L467.7,277.6 L469.5,276.7 L471.3,275.9 L473.1,275.1 L475.0,274.4 L476.9,273.6 L478.7,272.9 L480.6,272.2 L482.4,271.4 L484.3,270.7 L486.2,270.0 L488.0,269.2 L489.9,268.5 L491.8,267.8 L493.6,267.0 L495.5,266.3 L497.3,265.5 L499.2,264.7 L501.0,264.0 L502.9,263.2 L504.7,262.4 L506.6,261.6 L508.4,260.9 L510.3,260.1 L512.2,259.5 L514.1,258.9 L516.0,258.3 L517.9,257.8 L519.8,257.4 L521.8,256.9 L523.8,256.6 L525.7,256.2 L527.7,255.9 L529.7,255.7 L531.7,255.4 L533.7,255.2 L535.7,255.1 L537.7,255.0 L539.6,255.0 L541.6,255.1 L543.6,255.3 L545.5,255.6 L547.5,256.0 L549.4,256.5 L551.2,257.2 L553.0,258.0 L554.7,259.0 L556.3,260.0 L557.8,261.3 L559.3,262.6 L560.6,264.0 L561.9,265.5 L563.0,267.1 L564.1,268.8 L565.2,270.4 L566.1,272.2 L567.0,274.0"/>
<path class="sp" d="M437.3,327.6 L437.5,325.8 L437.7,323.9 L438.0,322.1 L438.3,320.2 L438.6,318.4 L439.0,316.6 L439.5,314.8 L440.0,313.0 L440.5,311.3 L441.1,309.5 L441.8,307.8 L442.6,306.1 L443.4,304.5 L444.3,302.9 L445.3,301.3 L446.3,299.8 L447.4,298.4 L448.6,297.0 L449.9,295.6 L451.2,294.4 L452.6,293.1 L454.0,291.9 L455.4,290.7 L456.9,289.6 L458.4,288.5 L459.9,287.5 L461.5,286.5 L463.1,285.5 L464.7,284.6 L466.3,283.7 L468.0,282.9 L469.7,282.1 L471.3,281.3 L473.0,280.5 L474.7,279.7 L476.4,278.9 L478.1,278.2 L479.8,277.4 L481.5,276.7 L483.2,276.0 L484.9,275.2 L486.6,274.5 L488.3,273.8 L490.1,273.1 L491.8,272.4 L493.5,271.7 L495.2,271.0 L496.9,270.2 L498.6,269.5 L500.3,268.7 L502.0,268.0 L503.7,267.2 L505.4,266.4 L507.1,265.7 L508.8,264.9 L510.5,264.2 L512.2,263.5 L514.0,262.9 L515.7,262.4 L517.5,261.8 L519.3,261.4 L521.1,261.0 L522.9,260.6 L524.7,260.2 L526.6,260.0 L528.4,259.7 L530.2,259.5 L532.1,259.4 L533.9,259.4 L535.8,259.5 L537.6,259.6 L539.4,259.9 L541.2,260.2 L543.0,260.7 L544.7,261.2 L546.4,261.9 L548.1,262.6 L549.7,263.5 L551.3,264.4 L552.8,265.5 L554.2,266.6 L555.4,267.9 L556.6,269.3 L557.7,270.7 L558.6,272.3 L559.4,273.9 L560.3,275.5 L561.0,277.2 L561.5,279.0"/>
<g transform="translate(559,276.5) rotate(-28.4)"><rect class="ol" x="0" y="0" width="49" height="5.2" rx="1.5"/><rect class="ol" x="1" y="5.8" width="49" height="5.2" rx="1.5"/><rect x="8" y="11.3" width="32" height="5.6" rx="1" fill="#fff" stroke="#111" stroke-width="1.7"/><ellipse cx="26" cy="13.5" rx="4.5" ry="2.2" fill="#fff" stroke="#333" stroke-width="0.9"/></g>
<rect class="ol" x="394.6" y="244" width="11.2" height="20"/>
<path class="ol" d="M383,222.5 Q391,229 391.7,241.7 L409.2,241.7 Q410,229 418.3,222.5 Z"/>
<path class="th" d="M390.4,223 Q393.5,233 395.4,241.5 M400.4,223 L400.4,241.5 M410.4,223 Q407.5,233 405.4,241.5"/>
<rect class="ol" x="391.7" y="241.7" width="17.5" height="3.3"/>
<path class="ol" d="M386.3,218.3 L414.6,218.3 L418.3,222.5 L383,222.5 Z"/>
<path class="ol" d="M386.3,218.3 L391.7,209.5 Q400.5,206.5 410.8,209.5 L414.6,218.3 Z"/>
<path d="M389.5,217.5 L393.5,210 M393.5,218 L396.5,209 M397.5,218 L399,208.3 M401.5,218 L401.5,208.3 M405.5,218 L404.5,208.5 M409.5,218 L407.5,209 M412.5,217.5 L410,210" stroke="#111" stroke-width="1.2"/>
<rect class="ol" x="357" y="327.5" width="82" height="3.5"/>
<path class="ol" d="M357,331 L439,331 Q442,338 449.5,340.5 L345.5,340.5 Q353,338 357,331 Z"/>
<rect x="345" y="340.2" width="105" height="3" rx="1" fill="#888" stroke="#111" stroke-width="1.2"/>
<rect class="ol" x="380.5" y="343" width="35.3" height="28.5"/>
<rect x="360.5" y="371.1" width="76" height="4.4" rx="2" fill="#fff" stroke="#111" stroke-width="1.5"/>
<rect x="367.5" y="375.5" width="62" height="2.2" fill="#333" stroke="none"/>
<rect class="ol" x="367.8" y="377.6" width="61.4" height="5" rx="1.5"/>
<rect class="ol" x="376.1" y="382.6" width="45" height="5.7" rx="1.5"/>
<path class="th" d="M384.5,382.6 L384.5,388.3 M390.0,382.6 L390.0,388.3 M407.5,382.6 L407.5,388.3 M413.0,382.6 L413.0,388.3"/>
<rect class="ol" x="380.5" y="388" width="35.3" height="25"/>
<rect class="ol" x="376.8" y="412.5" width="43.2" height="37.7"/>
<path class="wm" d="M379,424 Q384,431.5 379,441 M418.5,424 Q413.5,431.5 418.5,441"/>
<rect class="ol" x="374.2" y="424.5" width="3" height="24"/>
<rect class="ol" x="359.7" y="421.9" width="14.5" height="29.1" rx="3"/>
<path class="th" d="M359.7,427.6 L374.2,427.6 M359.7,445.3 L374.2,445.3"/>
<rect class="ol" x="354" y="428.4" width="4.5" height="17.7" rx="1.5"/>
<rect class="ol" x="341.5" y="429.2" width="12.5" height="15.3"/>
<path d="M341.5,431 L354,431 M341.5,442.7 L354,442.7" stroke="#222" stroke-width="1.3"/>
<rect class="ol" x="332.3" y="427.6" width="9" height="18.5" rx="1"/>
<rect class="ol" x="419.6" y="424.5" width="3" height="24"/>
<rect class="ol" x="422.2" y="421.9" width="14.5" height="29.1" rx="3"/>
<path class="th" d="M422.2,427.6 L436.7,427.6 M422.2,445.3 L436.7,445.3"/>
<rect class="ol" x="437.9" y="428.4" width="4.8" height="17.7" rx="1.5"/>
<rect class="ol" x="442.7" y="429.2" width="12" height="15.3"/>
<path d="M442.7,431 L454.7,431 M442.7,442.7 L454.7,442.7" stroke="#222" stroke-width="1.3"/>
<rect class="ol" x="454.7" y="427.6" width="9" height="18.5" rx="1"/>
<rect class="ol" x="383.9" y="450.2" width="28.2" height="13.7"/>
<path class="th" d="M390.3,450.2 L390.3,463.9 M405.6,450.2 L405.6,463.9"/>
<rect class="ol" x="390.3" y="463.9" width="15.3" height="8.8"/>
<path class="ol" d="M393.2,472.7 L393.2,585 Q393.2,586.7 395,586.7 L398.5,586.7 Q400.2,586.7 400.2,585 L400.2,472.7"/>
<path d="M396.5,586 Q399.5,585.5 399.6,583.5" stroke="#111" stroke-width="2.2" fill="none"/>
<path class="ol" d="M393.1,669.4 L393.1,592 Q393.1,590.7 394.5,590.7 L398.8,590.7 Q400.1,590.7 400.1,592 L400.1,669.4 Z"/>
<path d="M393.8,593.5 Q394.5,591.5 397.5,591.5" stroke="#111" stroke-width="2.2" fill="none"/>
<rect class="ol" x="355.6" y="631.9" width="182.5" height="7"/>
<rect class="ol" x="389.4" y="629.4" width="29.5" height="11.2" rx="1"/>
<circle class="ol" cx="396" cy="635" r="5.3"/>
<path class="th" d="M392.5,638.5 L399.5,631.5 M394,639.5 L400.5,632.5"/>
<rect class="ol" x="418.9" y="632" width="3.9" height="6"/>
<rect class="ol" x="422.8" y="630.5" width="3.9" height="9"/>
<path class="ol" d="M541.1,627.2 Q536.5,628 536.8,635.2 Q536.5,642.5 541.1,643.3 Z"/>
<rect class="ol" x="540.8" y="620.3" width="17.5" height="31.1" rx="2"/>
<rect x="545" y="619.8" width="8.9" height="32.5" rx="1.5" fill="#1e1e1e" stroke="#111" stroke-width="1"/>
<line x1="546.5" y1="627" x2="552.5" y2="627" stroke="#aaa" stroke-width="0.9"/>
<line x1="546.5" y1="631" x2="552.5" y2="631" stroke="#aaa" stroke-width="0.9"/>
<line x1="546.5" y1="635" x2="552.5" y2="635" stroke="#aaa" stroke-width="0.9"/>
<line x1="546.5" y1="639" x2="552.5" y2="639" stroke="#aaa" stroke-width="0.9"/>
<line x1="546.5" y1="643" x2="552.5" y2="643" stroke="#aaa" stroke-width="0.9"/>
<rect class="ol" x="566.7" y="600.5" width="60.5" height="49.5"/>
<rect class="ol" x="558.3" y="622" width="2.8" height="28"/>
<path class="ol" d="M561.1,621.9 L565,621.9 Q569.6,626 569.6,636 Q569.6,646 565,650.3 L561.1,650.3 Z"/>
<rect class="ol" x="567.4" y="649.7" width="56" height="14"/>
<path class="ol" d="M557.3,596 L636.6,596 L634,600.8 L560,600.8 Z"/>
<line x1="557" y1="597.5" x2="637" y2="597.5" stroke="#111" stroke-width="1.6"/>
<rect class="ol" x="554.2" y="590" width="85.5" height="6"/>
<rect class="ol" x="569" y="558" width="55.2" height="32"/>
<rect class="ol" x="575.2" y="575.9" width="43.6" height="14.1"/>
<path class="th" d="M591.5,575.9 L591.5,590 M602.4,575.9 L602.4,590"/>
<path d="M576.5,576 L576.5,590 M617.5,576 L617.5,590" stroke="#111" stroke-width="1.5"/>
<path class="ol" d="M554.2,544.8 L640.5,544.8 L628,558 L566.7,558 Z"/>
<line x1="554.2" y1="545" x2="640.5" y2="545" stroke="#111" stroke-width="2.2"/>
<line x1="400" y1="181.3" x2="589" y2="181.3" class="dim"/>
<path d="M400.0,181.3 L412.5,178.8 L412.5,183.8 Z" class="ah"/>
<path d="M589.0,181.3 L576.5,183.8 L576.5,178.8 Z" class="ah"/>
<line x1="400" y1="174.7" x2="400" y2="198.7" class="dim"/>
<line x1="589" y1="174" x2="589" y2="281" class="dim"/>
<text font-size="29.85" transform="translate(459.44,177.50) scale(0.954,1)">135</text>
<path class="dim" d="M547,197.5 Q568,189.5 589,188.8"/>
<path d="M547.0,197.5 L554.3,192.8 L555.5,195.9 Z" class="ah"/>
<path d="M589.0,188.8 L580.5,190.6 L580.5,187.4 Z" class="ah"/>
<line x1="547" y1="197.5" x2="598" y2="298" class="dim"/>
<text font-size="33.33" transform="translate(506.50,223.30) scale(0.900,1)">27°</text>
<line x1="276.7" y1="207.5" x2="373.5" y2="207.5" class="dim"/>
<line x1="284" y1="207.5" x2="284" y2="342" class="dim"/>
<path d="M284.0,207.5 L286.5,220.0 L281.5,220.0 Z" class="ah"/>
<path d="M284.0,342.0 L281.5,329.5 L286.5,329.5 Z" class="ah"/>
<line x1="276.7" y1="342.6" x2="335" y2="342.6" class="dim"/>
<text font-size="31.19" transform="translate(279.68,280.05) rotate(-90) scale(0.920,1)">88</text>
<text font-size="29.01" transform="translate(288.48,316.73) scale(1.055,1)">Ø70</text>
<line x1="285.6" y1="323.5" x2="344.3" y2="323.5" class="dim"/>
<path d="M345.0,323.5 L332.5,326.0 L332.5,321.0 Z" class="ah"/>
<line x1="345.5" y1="316" x2="345.5" y2="332" class="dim"/>
<line x1="449" y1="316" x2="449" y2="335" class="dim"/>
<path d="M450.0,323.6 L462.5,321.1 L462.5,326.1 Z" class="ah"/>
<line x1="450" y1="323.6" x2="478" y2="323.6" class="dim"/>
<text font-size="29.55" transform="translate(296.20,380.10) rotate(-90) scale(1.008,1)">45</text>
<line x1="347.5" y1="361.7" x2="380" y2="361.7" class="dim"/>
<path d="M380.0,361.7 L367.5,364.2 L367.5,359.2 Z" class="ah"/>
<path d="M417.0,361.5 L429.5,359.0 L429.5,364.0 Z" class="ah"/>
<line x1="417" y1="361.5" x2="560" y2="361.5" class="dim"/>
<text font-size="29.71" transform="translate(447.81,384.71) scale(0.999,1)">M.26x1'5</text>
<line x1="508" y1="280" x2="560" y2="280" class="dim"/>
<line x1="514.5" y1="280" x2="514.5" y2="343" class="dim"/>
<path d="M514.5,281.8 L517.0,294.3 L512.0,294.3 Z" class="ah"/>
<path d="M514.5,343.0 L512.0,330.5 L517.0,330.5 Z" class="ah"/>
<line x1="460" y1="343" x2="521" y2="343" class="dim"/>
<text font-size="30.75" transform="translate(508.09,321.21) rotate(-90) scale(0.983,1)">56</text>
<text font-size="29.58" transform="translate(56.20,302.51) scale(1.018,1)">Ø70</text>
<line x1="56.7" y1="307.5" x2="122.5" y2="307.5" class="dim"/>
<path d="M123.0,307.5 L110.5,310.0 L110.5,305.0 Z" class="ah"/>
<line x1="123.5" y1="300.8" x2="123.5" y2="336" class="dim"/>
<line x1="218.7" y1="300" x2="218.7" y2="335" class="dim"/>
<path d="M218.7,307.1 L231.2,304.6 L231.2,309.6 Z" class="ah"/>
<line x1="218.7" y1="307.1" x2="251.4" y2="307.1" class="dim"/>

<text font-size="30" transform="translate(19.6,355.6)">1</text>
<text font-size="15" transform="translate(36.3,345.5)" stroke="#111" stroke-width="0.5">1</text>
<line x1="38.8" y1="355.5" x2="53.5" y2="335.5" stroke="#111" stroke-width="1.6"/>
<text font-size="13.5" transform="translate(46.3,355.8) scale(0.9,1)" stroke="#111" stroke-width="0.45">16</text>
<text font-size="30.15" transform="translate(58.43,355.30) scale(0.977,1)">"-19</text>
<line x1="19" y1="360" x2="153" y2="360" class="dim"/>
<path d="M153.0,360.0 L140.5,362.5 L140.5,357.5 Z" class="ah"/>
<path d="M189.0,360.0 L201.5,357.5 L201.5,362.5 Z" class="ah"/>
<line x1="189" y1="360" x2="218" y2="360" class="dim"/>
<line x1="225.7" y1="340.6" x2="237.4" y2="340.6" class="dim"/>
<line x1="216.3" y1="370.9" x2="237.4" y2="370.9" class="dim"/>
<line x1="230.4" y1="340.6" x2="230.4" y2="370.9" class="dim"/>
<path d="M230.4,341.0 L233.0,350.0 L227.8,350.0 Z" class="ah"/>
<path d="M230.4,370.5 L227.8,361.5 L233.0,361.5 Z" class="ah"/>
<text font-size="28.38" transform="translate(259.43,415.57) rotate(-90) scale(1.024,1)">MAX.40</text>
<text font-size="31.67" transform="translate(8.34,506.70) scale(0.907,1)">½"-14 NPT</text>
<line x1="2" y1="510" x2="157.5" y2="510" class="dim"/>
<path d="M157.5,510.0 L145.0,512.5 L145.0,507.5 Z" class="ah"/>
<path d="M186.0,510.0 L198.5,507.5 L198.5,512.5 Z" class="ah"/>
<line x1="186" y1="510" x2="218" y2="510" class="dim"/>
<line x1="157.5" y1="483" x2="157.5" y2="517" class="dim"/>
<line x1="186" y1="483" x2="186" y2="517" class="dim"/>
<text font-size="28.87" transform="translate(571.81,519.93) scale(1.033,1)">Ø63</text>
<line x1="555" y1="524.3" x2="640" y2="524.3" class="dim"/>
<path d="M555.0,524.3 L567.5,521.8 L567.5,526.8 Z" class="ah"/>
<path d="M640.0,524.3 L627.5,526.8 L627.5,521.8 Z" class="ah"/>
<line x1="555" y1="517" x2="555" y2="540" class="dim"/>
<line x1="640" y1="517" x2="640" y2="540" class="dim"/>

<text font-size="29.5" transform="translate(643.8,566) scale(1.0,1)">Ø40,5</text>
<line x1="541.7" y1="572.6" x2="570" y2="572.6" class="dim"/>
<path d="M569.0,572.6 L556.5,575.1 L556.5,570.1 Z" class="ah"/>
<path d="M625.0,572.6 L637.5,570.1 L637.5,575.1 Z" class="ah"/>
<line x1="625" y1="572.6" x2="718" y2="572.6" class="dim"/>
<line x1="523" y1="544.5" x2="555" y2="544.5" class="dim"/>
<line x1="523" y1="590" x2="555" y2="590" class="dim"/>
<line x1="530" y1="544.5" x2="530" y2="590" class="dim"/>
<path d="M530.0,545.5 L532.6,554.5 L527.4,554.5 Z" class="ah"/>
<path d="M530.0,589.0 L527.4,580.0 L532.6,580.0 Z" class="ah"/>
<text font-size="29.70" transform="translate(518.31,588.56) rotate(-90) scale(1.044,1)">50</text>
<text font-size="28.21" transform="translate(491.62,608.84) rotate(-90) scale(0.997,1)">MAX.</text>
<text font-size="29.26" transform="translate(409.60,690.61) scale(1.025,1)">1¼"-11 BSP</text>
<line x1="408" y1="696.9" x2="567.3" y2="696.9" class="dim"/>
<path d="M567.3,696.9 L554.8,699.4 L554.8,694.4 Z" class="ah"/>
<path d="M625.0,696.9 L637.5,694.4 L637.5,699.4 Z" class="ah"/>
<line x1="625" y1="696.9" x2="640" y2="696.9" class="dim"/>
<line x1="568.3" y1="670" x2="568.3" y2="701.7" class="dim"/>
<line x1="625" y1="670" x2="625" y2="701.7" class="dim"/>
<line x1="596.7" y1="670" x2="596.7" y2="735" class="dim"/>
<text font-size="29.26" transform="translate(427.50,725.61) scale(1.031,1)">MAX. 190</text>
<line x1="396.7" y1="730.7" x2="596.7" y2="730.7" class="dim"/>
<path d="M396.7,730.7 L409.2,728.2 L409.2,733.2 Z" class="ah"/>
<path d="M596.7,730.7 L584.2,733.2 L584.2,728.2 Z" class="ah"/>
<line x1="396.7" y1="681.7" x2="396.7" y2="735" class="dim"/>
<text font-size="29.85" transform="translate(745.77,777.30) scale(1.032,1)">038601.D00</text>
<line x1="401" y1="175" x2="401" y2="198" class="dim"/>
<text x="0" y="0" font-size="16.5" letter-spacing="0.95" transform="translate(382.5,523.5) rotate(-44.6)" style="font-family:'Liberation Sans',sans-serif;fill:#cdcdcd;">select-interiorworld.com</text>
</svg></body></html>
